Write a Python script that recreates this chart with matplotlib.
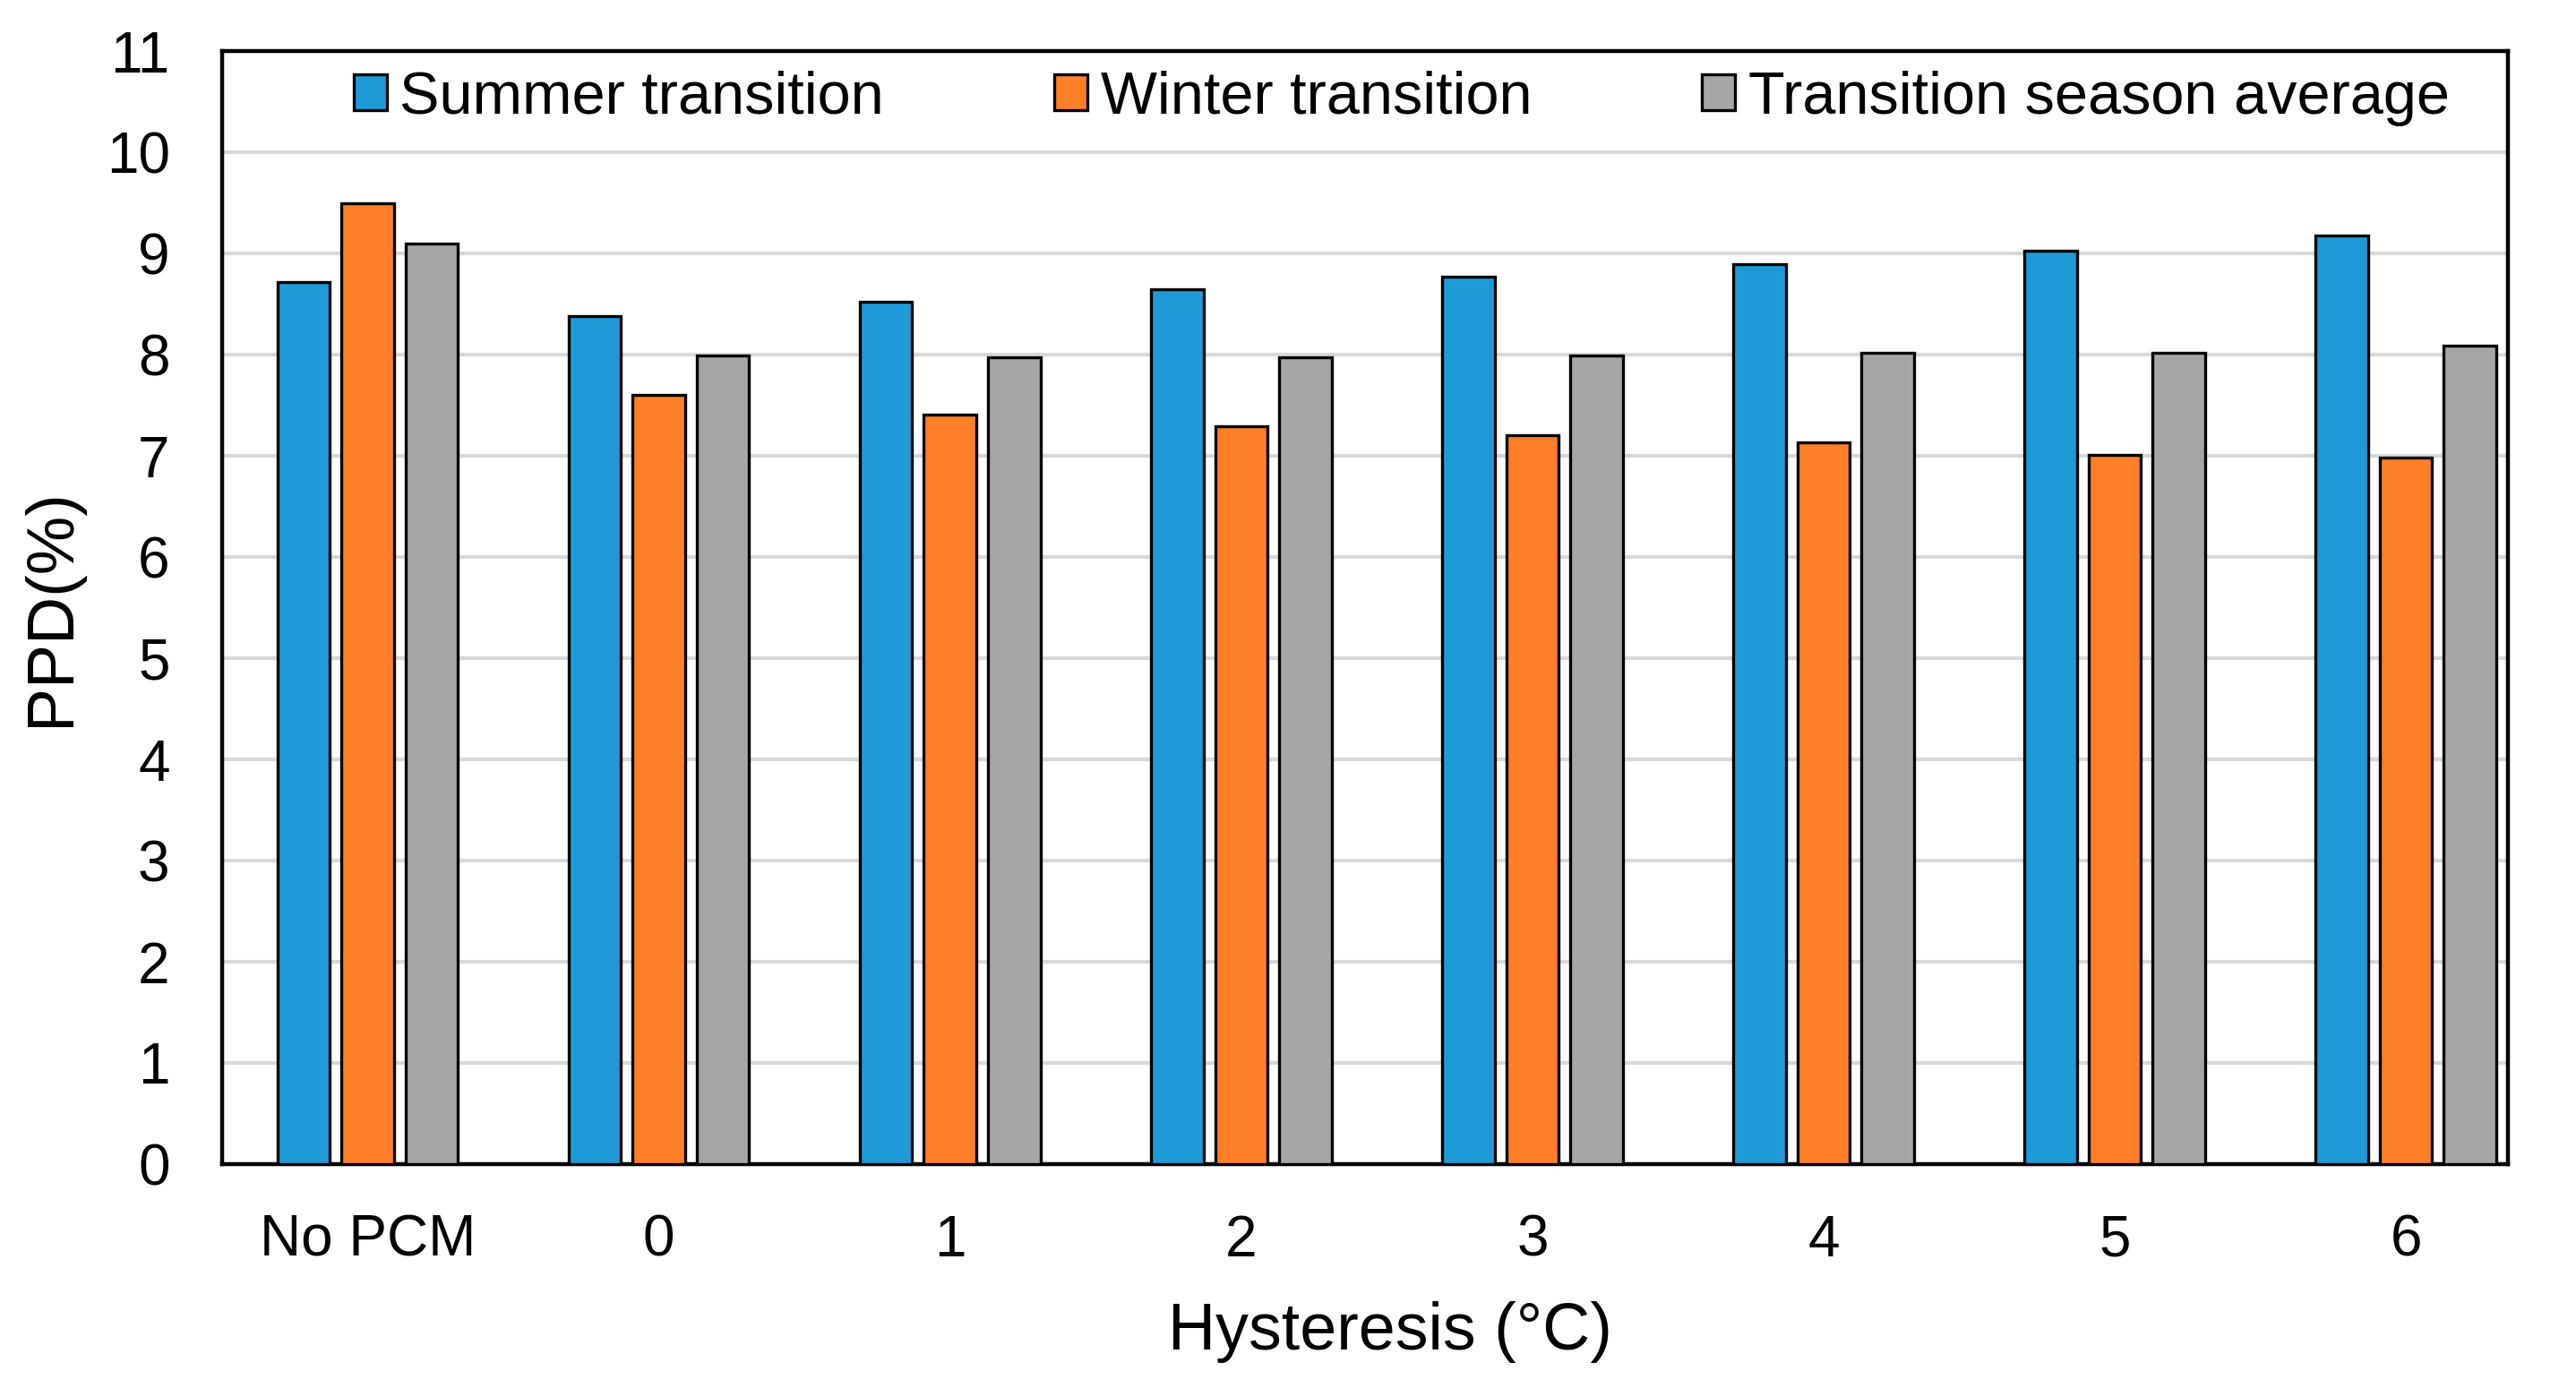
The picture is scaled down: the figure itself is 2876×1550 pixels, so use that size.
import matplotlib
matplotlib.use("Agg")
import matplotlib.pyplot as plt
from matplotlib.patches import Patch
import numpy as np

categories = ["No PCM", "0", "1", "2", "3", "4", "5", "6"]
summer = [8.72, 8.38, 8.52, 8.65, 8.77, 8.89, 9.03, 9.18]
winter = [9.50, 7.60, 7.41, 7.29, 7.20, 7.13, 7.01, 6.98]
average = [9.10, 7.99, 7.97, 7.97, 7.99, 8.02, 8.02, 8.09]
series_names = ["Summer transition", "Winter transition", "Transition season average"]
yticks = list(range(0, 12))

colors = ["#1e9bd7", "#fd7f27", "#a6a6a6"]

plt.rcParams['font.family'] = ['Liberation Sans', 'DejaVu Sans']

fig = plt.figure(figsize=(28.76, 15.5), dpi=100)
ax = fig.add_axes([248/2876, 1 - 1300/1550, (2800-248)/2876, (1300-57)/1550])

x = np.arange(len(categories))
w = 0.18
off = 0.22
for i, (vals, c) in enumerate(zip([summer, winter, average], colors)):
    ax.bar(x + (i - 1) * off, vals, width=w, color=c, edgecolor="black",
           linewidth=2.4, zorder=3)

ax.set_ylim(0, 11)
ax.set_xlim(-0.5, len(categories) - 1 + 0.35)
ax.set_yticks(yticks)
ax.set_xticks(x)
ax.set_xticklabels(categories)
ax.tick_params(axis="both", length=0, labelsize=46)
ax.tick_params(axis="y", pad=42)
ax.tick_params(axis="x", pad=40)
ax.yaxis.grid(True, color="#d9d9d9", linewidth=3, zorder=0)
ax.set_axisbelow(True)
for s in ax.spines.values():
    s.set_linewidth(3.2)
    s.set_color("black")

ax.set_ylabel("PPD(%)", fontsize=53, labelpad=19)
ax.set_xlabel("Hysteresis (°C)", fontsize=53, labelpad=27)
ax.xaxis.label.set_x(0.511)

handles = [Patch(facecolor=c, edgecolor="black", linewidth=2.4) for c in colors]
leg = ax.legend(handles, series_names, loc="upper center", bbox_to_anchor=(0.516, 1.02),
                ncol=3, frameon=False, fontsize=48, handlelength=0.55, handleheight=0.55,
                handletextpad=0.22, columnspacing=2.85, borderaxespad=0.3)

fig.savefig("out.png", dpi=100, facecolor="white")
